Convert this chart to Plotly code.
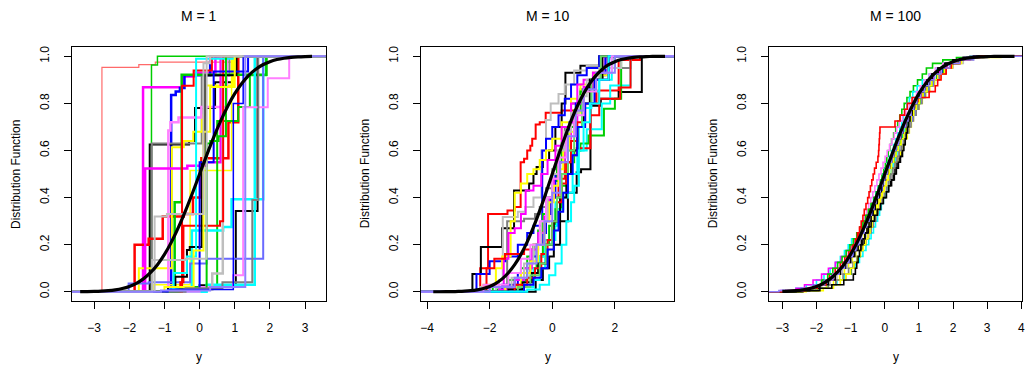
import plotly.graph_objects as go

# R-style palette
BLACK = "#000000"; RED = "#FF0000"; GREEN = "#00CD00"; BLUE = "#0000FF"
CYAN = "#00FFFF"; MAGENTA = "#FF00FF"; YELLOW = "#FFFF00"; GRAY = "#BEBEBE"
DGRAY = "#7F7F7F"; PURPLE = "#8F7FFF"; LRED = "#FF6A6A"; LMAG = "#FF7FFF"
LBLUE = "#6A6AFF"; LGREEN = "#66D966"

TITLES = ["M = 1", "M = 10", "M = 100"]
X_RANGES = [[-3.64, 3.59], [-4.19, 3.89], [-3.39, 4.02]]
X_TICKS = [[-3, -2, -1, 0, 1, 2, 3], [-4, -2, 0, 2], [-3, -2, -1, 0, 1, 2, 3, 4]]
Y_TICKS = [0, 0.2, 0.4, 0.6, 0.8, 1.0]
Y_TICK_TEXT = ["0.0", "0.2", "0.4", "0.6", "0.8", "1.0"]
X_LABEL = "y"
Y_LABEL = "Distribution Function"

# standard normal distribution function (thick reference curve)
NORM_X = [-4.0, -3.8, -3.6, -3.4, -3.2, -3.0, -2.8, -2.6, -2.4, -2.2, -2.0, -1.8, -1.6,
          -1.4, -1.2, -1.0, -0.8, -0.6, -0.4, -0.2, 0.0, 0.2, 0.4, 0.6, 0.8, 1.0, 1.2,
          1.4, 1.6, 1.8, 2.0, 2.2, 2.4, 2.6, 2.8, 3.0, 3.2, 3.4, 3.6, 3.8, 4.0]
NORM_Y = [0.00003, 0.00007, 0.00016, 0.00034, 0.00069, 0.00135, 0.00256, 0.00466,
          0.0082, 0.0139, 0.02275, 0.0359, 0.0548, 0.0808, 0.1151, 0.1587, 0.2119,
          0.2743, 0.3446, 0.4207, 0.5, 0.5793, 0.6554, 0.7257, 0.7881, 0.8413, 0.8849,
          0.9192, 0.9452, 0.9641, 0.97725, 0.9861, 0.9918, 0.99534, 0.99744, 0.99865,
          0.99931, 0.99966, 0.99984, 0.99993, 0.99997]
NORM_SPAN = [(-3.4, 3.3), (-3.9, 3.7), (-3.1, 3.8)]

# ---- M = 1: empirical distribution functions (jump points and levels)
P1_COLORS = [LRED, GREEN, MAGENTA, BLUE, BLACK, DGRAY, RED, YELLOW, YELLOW, LMAG,
             MAGENTA, GREEN, GREEN, BLACK, CYAN, CYAN, LBLUE, GRAY, LMAG, RED,
             RED, BLACK, CYAN, BLUE, GREEN, YELLOW, DGRAY, GRAY, BLUE, GRAY, PURPLE]
P1_WIDTHS = [1.2, 1.5, 2.5, 2.5, 2, 2, 2.5, 2, 1.5, 2.5,
             2.5, 2.5, 2, 2, 2.5, 2.5, 2, 2.5, 2, 2,
             2, 2, 2, 2, 2, 2, 2, 2, 1.5, 2, 2]
P1_JUMPS = [
    [-2.78, -1.73, -1.26, 0.96],
    [-1.37, -1.2],
    [-1.61, -0.47, -0.12, 0.45],
    [-0.81, -0.68, -0.56, -0.43, 0.3],
    [-1.42, -0.3, -0.13, 0.44, 0.96],
    [-1.36, 0.06, 0.85],
    [-1.85, -1.45, -1.05, -0.45, -0.19, 0.05, 0.82, 1.1],
    [-1.73, -0.79, -0.45, -0.18, 0.07, 0.17, 0.95],
    [-1.3, -0.27, 0.91],
    [-0.89, -0.83, -0.6, 0.05, 0.77],
    [-1.55, -0.35, 0.2, 0.6],
    [-0.71, -0.51, 1.9],
    [-0.3, 0.5, 1.1, 1.43, 1.9],
    [0.0, 1.03, 1.65],
    [0.2, 1.57],
    [-0.9, -0.22, 0.67, 0.91, 1.81],
    [-2.02, -1.45, -0.27, 0.2, 1.81],
    [-0.5, 0.36, 0.66],
    [0.0, 0.95, 1.24, 1.94, 2.55],
    [-0.55, -0.46, 0.58, 0.67],
    [-0.5, -0.17, 0.35],
    [-0.9, -0.69, -0.36, -0.28, 0.06, 0.15, 1.05],
    [-0.74, -0.36, -0.1, 0.98],
    [-0.65, 0.0, 0.4, 1.38],
    [-0.6, 0.2, 0.3, 0.54, 0.75],
    [-1.0, -0.17, 0.11, 0.3, 1.0],
    [-0.4, 0.65, 1.5, 1.67],
    [-1.28, -0.93, 0.11, 0.3],
    [-0.9, 0.96, 1.24],
    [-1.35, -0.4, 0.2],
    [-1.1, 0.3, 1.3],
]
P1_LEVELS = [
    [0.953, 0.965, 0.975, 1.0],
    [0.963, 1.0],
    [0.869, 0.914, 0.93, 1.0],
    [0.836, 0.85, 0.865, 0.92, 1.0],
    [0.625, 0.64, 0.78, 0.89, 1.0],
    [0.63, 0.918, 1.0],
    [0.2, 0.225, 0.32, 0.33, 0.4, 0.567, 0.72, 1.0],
    [0.1, 0.614, 0.64, 0.68, 0.75, 0.876, 1.0],
    [0.03, 0.515, 1.0],
    [0.685, 0.72, 0.74, 0.785, 1.0],
    [0.523, 0.535, 0.55, 1.0],
    [0.38, 0.922, 1.0],
    [0.02, 0.725, 0.785, 0.92, 1.0],
    [0.028, 0.343, 1.0],
    [0.03, 1.0],
    [0.01, 0.26, 0.275, 0.393, 1.0],
    [0.035, 0.04, 0.12, 0.14, 1.0],
    [0.01, 0.078, 1.0],
    [0.02, 0.07, 0.784, 0.907, 1.0],
    [0.04, 0.28, 0.3, 1.0],
    [0.875, 0.94, 1.0],
    [0.02, 0.064, 0.177, 0.19, 0.55, 0.92, 1.0],
    [0.08, 0.15, 0.99, 1.0],
    [0.01, 0.55, 0.935, 1.0],
    [0.01, 0.63, 0.64, 0.66, 1.0],
    [0.02, 0.175, 0.68, 0.87, 1.0],
    [0.015, 0.04, 0.39, 1.0],
    [0.32, 0.33, 0.97, 1.0],
    [0.01, 0.8, 1.0],
    [0.135, 0.14, 1.0],
    [0.005, 0.02, 1.0],
]

# ---- M = 10
P2_COLORS = [RED, BLACK, BLACK, GRAY, DGRAY, BLUE, YELLOW, MAGENTA, CYAN, GREEN, RED,
             GREEN, BLUE, CYAN, MAGENTA, YELLOW, GRAY, BLACK, RED, LGREEN, BLUE, CYAN,
             LMAG, PURPLE]
P2_WIDTHS = [2] * 24
P2_JUMPS = [
    [-2.3, -2.05, -1.43, -1.2, -1.01, -0.9, -0.8, -0.7, -0.64, -0.53, -0.4, -0.21, 0.3, 0.8, 1.48, 2.12, 2.8],
    [-2.55, -2.28, -1.6, -1.22, -0.74, -0.6, -0.5, -0.3, -0.1, 0.1, 0.3, 0.42, 0.9, 1.5],
    [-0.53, -0.3, -0.1, 0.05, 0.25, 0.5, 0.78, 0.92, 1.22, 1.55, 2.12, 2.86],
    [-2.3, -1.7, -1.58, -1.1, -0.86, -0.6, -0.35, -0.2, -0.05, 0.2, 0.4, 0.7, 1.1, 1.7, 2.0],
    [-1.44, -0.9, -0.55, -0.4, -0.2, 0.0, 0.2, 0.4, 0.6, 0.9, 1.2, 1.6, 2.5],
    [-2.42, -2.0, -1.5, -1.1, -0.8, -0.6, -0.32, -0.2, 0.0, 0.2, 0.4, 0.6, 0.8, 1.1, 1.5],
    [-2.2, -1.8, -1.6, -1.33, -1.2, -1.0, -0.8, -0.6, -0.4, -0.2, 0.0, 0.3, 0.6, 0.9, 1.3, 1.8],
    [-2.0, -1.55, -1.4, -1.2, -1.0, -0.85, -0.6, -0.35, -0.15, 0.1, 0.3, 0.6, 0.8, 1.0, 1.3, 1.7],
    [-1.5, -1.0, -0.6, -0.4, -0.23, 0.1, 0.3, 0.5, 0.65, 0.8, 1.1, 1.58, 1.85, 2.5],
    [-1.8, -1.2, -0.8, -0.5, -0.3, -0.1, 0.1, 0.3, 0.5, 0.7, 0.9, 1.16, 1.65, 2.0, 2.2],
    [-2.1, -1.85, -1.51, -0.9, -0.6, -0.3, -0.1, 0.2, 0.4, 0.6, 0.78, 1.22, 1.5, 2.17, 2.5],
    [-1.9, -1.4, -1.0, -0.8, -0.6, -0.45, -0.3, -0.15, 0.0, 0.15, 0.3, 0.5, 0.7, 0.9, 1.2, 1.6, 2.0],
    [-1.6, -1.1, -0.7, -0.5, -0.3, -0.2, -0.05, 0.1, 0.25, 0.4, 0.55, 0.75, 1.0, 1.3, 1.7],
    [-1.3, -0.9, -0.6, -0.4, -0.2, 0.0, 0.15, 0.35, 0.5, 0.65, 0.85, 1.0, 1.25, 1.5, 1.9],
    [-1.7, -1.2, -0.9, -0.65, -0.45, -0.25, -0.1, 0.05, 0.2, 0.4, 0.6, 0.8, 1.0, 1.3, 1.6],
    [-1.5, -1.0, -0.7, -0.45, -0.25, -0.1, 0.05, 0.2, 0.35, 0.55, 0.75, 1.0, 1.35, 1.8],
    [-1.8, -1.3, -0.9, -0.6, -0.35, -0.15, 0.0, 0.2, 0.4, 0.6, 0.85, 1.1, 1.5, 2.2],
    [-1.4, -0.95, -0.65, -0.45, -0.2, 0.05, 0.25, 0.45, 0.6, 0.8, 1.0, 1.2, 1.6],
    [-1.2, -0.8, -0.55, -0.35, -0.15, 0.0, 0.15, 0.3, 0.45, 0.6, 0.8, 1.05, 1.4, 1.8],
    [-1.1, -0.7, -0.4, -0.2, 0.0, 0.15, 0.3, 0.5, 0.7, 0.95, 1.25, 1.55],
    [-0.9, -0.6, -0.35, -0.15, 0.05, 0.2, 0.35, 0.5, 0.65, 0.8, 1.05, 1.35, 1.8],
    [-0.8, -0.4, -0.1, 0.1, 0.3, 0.45, 0.6, 0.7, 0.85, 1.0, 1.2, 1.5, 1.8],
    [-2.2, -1.4, -1.0, -0.7, -0.4, -0.2, 0.0, 0.2, 0.45, 0.7, 1.0, 1.4, 1.9],
    [-2.0, -1.2, -0.8, -0.5, -0.25, 0.0, 0.25, 0.5, 0.75, 1.0, 1.4, 2.0],
]
P2_LEVELS = [
    [0.1, 0.33, 0.345, 0.36, 0.55, 0.565, 0.6, 0.62, 0.65, 0.71, 0.72, 0.76, 0.77, 0.8, 0.855, 0.984, 1.0],
    [0.075, 0.19, 0.27, 0.43, 0.46, 0.5, 0.53, 0.56, 0.6, 0.7, 0.8, 0.93, 0.96, 1.0],
    [0.05, 0.1, 0.15, 0.2, 0.3, 0.42, 0.508, 0.52, 0.79, 0.82, 0.848, 1.0],
    [0.02, 0.05, 0.318, 0.34, 0.36, 0.4, 0.6, 0.73, 0.8, 0.84, 0.88, 0.94, 0.96, 0.99, 1.0],
    [0.3, 0.31, 0.33, 0.36, 0.44, 0.52, 0.6, 0.7, 0.8, 0.86, 0.9, 0.95, 1.0],
    [0.075, 0.13, 0.15, 0.2, 0.25, 0.28, 0.6, 0.65, 0.7, 0.75, 0.82, 0.88, 0.92, 0.95, 1.0],
    [0.03, 0.1, 0.15, 0.3, 0.42, 0.46, 0.5, 0.52, 0.56, 0.6, 0.65, 0.72, 0.82, 0.88, 0.93, 1.0],
    [0.02, 0.14, 0.25, 0.27, 0.33, 0.43, 0.45, 0.5, 0.56, 0.62, 0.7, 0.8, 0.88, 0.9, 0.93, 1.0],
    [0.005, 0.02, 0.05, 0.1, 0.22, 0.38, 0.4, 0.42, 0.5, 0.6, 0.69, 0.8, 0.876, 1.0],
    [0.01, 0.05, 0.1, 0.15, 0.2, 0.28, 0.35, 0.45, 0.55, 0.6, 0.63, 0.664, 0.777, 0.82, 1.0],
    [0.1, 0.14, 0.16, 0.18, 0.2, 0.3, 0.4, 0.48, 0.55, 0.58, 0.61, 0.75, 0.82, 0.868, 1.0],
    [0.02, 0.05, 0.1, 0.15, 0.2, 0.26, 0.33, 0.4, 0.47, 0.55, 0.63, 0.7, 0.77, 0.85, 0.9, 0.95, 1.0],
    [0.03, 0.08, 0.15, 0.2, 0.25, 0.33, 0.4, 0.5, 0.55, 0.62, 0.72, 0.8, 0.86, 0.92, 1.0],
    [0.02, 0.06, 0.1, 0.15, 0.2, 0.28, 0.35, 0.42, 0.5, 0.6, 0.7, 0.78, 0.85, 0.9, 1.0],
    [0.01, 0.05, 0.1, 0.18, 0.25, 0.32, 0.4, 0.48, 0.55, 0.65, 0.72, 0.8, 0.87, 0.93, 1.0],
    [0.02, 0.08, 0.13, 0.2, 0.3, 0.38, 0.45, 0.52, 0.6, 0.68, 0.76, 0.85, 0.92, 1.0],
    [0.02, 0.06, 0.12, 0.2, 0.3, 0.4, 0.5, 0.6, 0.68, 0.76, 0.83, 0.9, 0.95, 1.0],
    [0.01, 0.04, 0.08, 0.12, 0.2, 0.3, 0.4, 0.5, 0.6, 0.7, 0.8, 0.9, 1.0],
    [0.03, 0.06, 0.1, 0.16, 0.22, 0.3, 0.38, 0.46, 0.55, 0.64, 0.72, 0.8, 0.9, 1.0],
    [0.02, 0.07, 0.12, 0.2, 0.3, 0.4, 0.5, 0.6, 0.7, 0.8, 0.9, 1.0],
    [0.03, 0.06, 0.1, 0.18, 0.26, 0.34, 0.42, 0.5, 0.58, 0.7, 0.8, 0.9, 1.0],
    [0.01, 0.03, 0.07, 0.12, 0.2, 0.3, 0.38, 0.45, 0.6, 0.72, 0.8, 0.9, 1.0],
    [0.03, 0.08, 0.14, 0.2, 0.3, 0.4, 0.48, 0.57, 0.66, 0.75, 0.85, 0.93, 1.0],
    [0.02, 0.06, 0.12, 0.2, 0.3, 0.42, 0.55, 0.66, 0.77, 0.86, 0.93, 1.0],
]

# ---- M = 100: all curves share the same levels, one jump point per level
P3_LEVELS = [0.005, 0.015, 0.03, 0.05, 0.075, 0.1, 0.125, 0.15, 0.175, 0.2, 0.225,
             0.25, 0.275, 0.3, 0.325, 0.35, 0.375, 0.4, 0.425, 0.45, 0.475, 0.5,
             0.525, 0.55, 0.575, 0.6, 0.625, 0.65, 0.675, 0.7, 0.725, 0.75, 0.775,
             0.8, 0.825, 0.85, 0.875, 0.9, 0.925, 0.95, 0.97, 0.985, 0.995, 1.0]
P3_COLORS = [BLACK, BLUE, GREEN, CYAN, CYAN, MAGENTA, LMAG, YELLOW, GRAY, DGRAY,
             RED, LBLUE, GREEN, YELLOW, BLACK, BLACK, RED, PURPLE]
P3_JUMPS = [
    [-2.45, -2.0, -1.7, -1.42, -1.15, -0.98, -0.88, -0.8, -0.73, -0.66, -0.59,
     -0.5, -0.42, -0.35, -0.28, -0.2, -0.12, -0.05, 0.02, 0.1, 0.17, 0.25,
     0.3, 0.36, 0.42, 0.48, 0.52, 0.58, 0.62, 0.68, 0.72, 0.76, 0.82,
     0.9, 0.98, 1.08, 1.18, 1.3, 1.45, 1.62, 1.82, 2.05, 2.4, 2.75],
    [-2.7, -2.25, -1.95, -1.7, -1.5, -1.3, -1.15, -1.0, -0.9, -0.84, -0.82,
     -0.8, -0.65, -0.55, -0.45, -0.36, -0.28, -0.2, -0.12, -0.05, 0.05, 0.15,
     0.22, 0.3, 0.38, 0.45, 0.52, 0.56, 0.6, 0.64, 0.66, 0.7, 0.76,
     0.86, 0.98, 1.1, 1.22, 1.36, 1.52, 1.7, 1.92, 2.15, 2.45, 2.6],
    [-2.9, -2.3, -1.95, -1.72, -1.52, -1.36, -1.22, -1.1, -1.0, -0.9, -0.81,
     -0.72, -0.64, -0.57, -0.5, -0.43, -0.37, -0.31, -0.25, -0.19, -0.13, -0.08,
     -0.03, 0.02, 0.06, 0.1, 0.15, 0.2, 0.26, 0.32, 0.38, 0.44, 0.5,
     0.57, 0.65, 0.74, 0.84, 0.96, 1.1, 1.22, 1.4, 1.7, 2.1, 2.5],
    [-3.0, -2.6, -2.3, -2.0, -1.78, -1.6, -1.44, -1.3, -1.18, -1.07, -0.97,
     -0.78, -0.7, -0.62, -0.54, -0.47, -0.4, -0.33, -0.26, -0.19, -0.12, -0.05,
     0.02, 0.08, 0.14, 0.2, 0.26, 0.32, 0.38, 0.44, 0.5, 0.55, 0.6,
     0.65, 0.72, 0.82, 0.95, 1.1, 1.3, 1.5, 1.75, 2.0, 2.35, 2.65],
    [-2.5, -2.0, -1.68, -1.4, -1.18, -1.0, -0.86, -0.74, -0.64, -0.55, -0.47,
     -0.4, -0.33, -0.27, -0.21, -0.15, -0.1, -0.04, 0.01, 0.06, 0.11, 0.16,
     0.21, 0.26, 0.31, 0.36, 0.41, 0.46, 0.51, 0.56, 0.62, 0.68, 0.74,
     0.8, 0.88, 0.97, 1.08, 1.2, 1.35, 1.55, 1.8, 2.05, 2.35, 2.7],
    [-3.05, -2.6, -2.35, -2.1, -1.85, -1.65, -1.45, -1.28, -1.12, -1.0, -0.9,
     -0.8, -0.7, -0.6, -0.52, -0.44, -0.37, -0.3, -0.22, -0.15, -0.08, -0.02,
     0.06, 0.12, 0.18, 0.24, 0.31, 0.38, 0.45, 0.52, 0.6, 0.68, 0.76,
     0.85, 0.94, 1.04, 1.15, 1.27, 1.42, 1.6, 1.82, 2.05, 2.35, 2.6],
    [-2.75, -2.4, -2.1, -1.85, -1.62, -1.45, -1.3, -1.17, -1.05, -0.95, -0.86,
     -0.8, -0.73, -0.66, -0.59, -0.53, -0.47, -0.41, -0.35, -0.29, -0.23, -0.17,
     -0.11, -0.05, 0.01, 0.07, 0.14, 0.21, 0.28, 0.35, 0.43, 0.52, 0.62,
     0.72, 0.82, 0.93, 1.04, 1.16, 1.3, 1.48, 1.7, 2.0, 2.3, 2.7],
    [-2.4, -1.95, -1.7, -1.5, -1.32, -1.18, -1.06, -0.95, -0.85, -0.76, -0.68,
     -0.6, -0.52, -0.45, -0.38, -0.31, -0.24, -0.17, -0.1, -0.03, 0.04, 0.1,
     0.22, 0.3, 0.38, 0.46, 0.54, 0.6, 0.66, 0.72, 0.78, 0.84, 0.92,
     1.0, 1.1, 1.2, 1.32, 1.46, 1.62, 1.8, 1.98, 2.2, 2.45, 3.4],
    [-2.6, -2.15, -1.85, -1.6, -1.4, -1.24, -1.1, -0.98, -0.88, -0.78, -0.7,
     -0.52, -0.45, -0.38, -0.31, -0.24, -0.17, -0.1, -0.03, 0.04, 0.1, 0.17,
     0.23, 0.29, 0.35, 0.41, 0.47, 0.53, 0.6, 0.67, 0.74, 0.81, 0.88,
     0.9, 0.99, 1.1, 1.22, 1.36, 1.55, 1.78, 2.0, 2.3, 2.6, 2.9],
    [-2.4, -1.95, -1.65, -1.42, -1.22, -1.06, -0.93, -0.82, -0.72, -0.63, -0.55,
     -0.47, -0.4, -0.33, -0.26, -0.2, -0.13, -0.07, 0.0, 0.06, 0.12, 0.18,
     0.24, 0.3, 0.36, 0.42, 0.49, 0.56, 0.63, 0.7, 0.77, 0.84, 0.92,
     1.0, 1.09, 1.19, 1.3, 1.43, 1.58, 1.76, 1.98, 2.2, 2.5, 2.85],
    [-2.7, -2.3, -2.05, -1.82, -1.62, -1.45, -1.3, -1.17, -1.05, -0.95, -0.86,
     -0.77, -0.68, -0.6, -0.52, -0.45, -0.38, -0.3, -0.23, -0.16, -0.09, -0.02,
     0.05, 0.12, 0.19, 0.26, 0.33, 0.4, 0.47, 0.54, 0.62, 0.7, 0.79,
     0.88, 0.98, 1.1, 1.24, 1.4, 1.58, 1.76, 1.96, 2.2, 2.5, 2.75],
    [-2.9, -2.45, -2.1, -1.8, -1.56, -1.36, -1.2, -1.06, -0.94, -0.85, -0.77,
     -0.69, -0.61, -0.54, -0.47, -0.4, -0.34, -0.27, -0.2, -0.13, -0.06, 0.01,
     0.1, 0.17, 0.25, 0.32, 0.4, 0.48, 0.56, 0.64, 0.72, 0.8, 0.88,
     0.95, 1.05, 1.16, 1.28, 1.42, 1.58, 1.75, 1.95, 2.15, 2.4, 2.5],
    [-2.65, -2.3, -2.05, -1.85, -1.67, -1.52, -1.38, -1.25, -1.13, -1.02, -0.92,
     -0.82, -0.73, -0.64, -0.56, -0.48, -0.4, -0.32, -0.25, -0.18, -0.11, -0.04,
     0.14, 0.2, 0.27, 0.33, 0.4, 0.47, 0.54, 0.61, 0.69, 0.76, 0.84,
     0.93, 1.03, 1.13, 1.25, 1.38, 1.53, 1.72, 1.94, 2.18, 2.45, 2.75],
    [-2.3, -1.8, -1.5, -1.3, -1.14, -1.0, -0.9, -0.8, -0.71, -0.63, -0.56,
     -0.49, -0.43, -0.37, -0.31, -0.25, -0.19, -0.13, -0.07, -0.01, 0.05, 0.11,
     0.13, 0.19, 0.26, 0.33, 0.4, 0.48, 0.56, 0.63, 0.7, 0.77, 0.85,
     0.93, 1.02, 1.12, 1.24, 1.38, 1.55, 1.75, 1.98, 2.25, 2.55, 2.9],
    [-2.6, -2.2, -1.9, -1.65, -1.45, -1.3, -1.15, -1.0, -0.88, -0.78, -0.68,
     -0.58, -0.48, -0.4, -0.3, -0.22, -0.12, -0.04, 0.05, 0.12, 0.2, 0.28,
     0.34, 0.4, 0.46, 0.52, 0.56, 0.6, 0.63, 0.66, 0.7, 0.74, 0.8,
     0.86, 0.94, 1.02, 1.12, 1.24, 1.38, 1.56, 1.78, 2.0, 2.3, 2.7],
    [-2.4, -1.9, -1.55, -1.2, -0.92, -0.86, -0.82, -0.78, -0.74, -0.7, -0.64,
     -0.58, -0.52, -0.46, -0.4, -0.34, -0.28, -0.22, -0.16, -0.1, -0.04, 0.02,
     0.08, 0.14, 0.2, 0.26, 0.33, 0.4, 0.47, 0.54, 0.61, 0.68, 0.76,
     0.84, 0.93, 1.03, 1.14, 1.26, 1.4, 1.56, 1.76, 2.0, 2.3, 2.6],
    [-2.9, -2.35, -1.98, -1.72, -1.52, -1.36, -1.22, -1.1, -1.0, -0.92, -0.85,
     -0.8, -0.74, -0.69, -0.64, -0.6, -0.55, -0.5, -0.46, -0.42, -0.38, -0.34,
     -0.3, -0.25, -0.2, -0.18, -0.17, -0.16, -0.15, -0.14, 0.3, 0.45, 0.58,
     0.66, 0.8, 1.3, 1.48, 1.55, 1.65, 1.8, 1.95, 2.2, 2.5, 2.8],
    [-3.1, -2.4, -2.05, -1.76, -1.52, -1.34, -1.18, -1.05, -0.95, -0.85, -0.76,
     -0.68, -0.6, -0.53, -0.46, -0.39, -0.32, -0.26, -0.19, -0.13, -0.06, 0.0,
     0.07, 0.13, 0.2, 0.26, 0.33, 0.4, 0.46, 0.53, 0.61, 0.68, 0.77,
     0.85, 0.94, 1.05, 1.16, 1.29, 1.45, 1.65, 1.9, 2.2, 2.6, 3.0],
]

FONT = "Liberation Sans, Arial, Helvetica, sans-serif"
FIG_W, FIG_H = 1027, 369
# plot boxes in pixels: (left, right), shared top/bottom
BOX_X = [(71, 326), (421.7, 675.7), (771, 1025)]
BOX_TOP, BOX_BOTTOM = 46, 301


def step_trace(xs, ys, xrange, color, width, axis_id):
    px = [xrange[0]] + list(xs) + [xrange[1]]
    py = [0.0] + list(ys) + [ys[-1]]
    return go.Scatter(x=px, y=py, mode="lines", line=dict(color=color, width=width, shape="hv"),
                      xaxis="x" + axis_id, yaxis="y" + axis_id, hoverinfo="skip", showlegend=False)


fig = go.Figure()
panels = [
    (P1_COLORS, P1_WIDTHS, P1_JUMPS, P1_LEVELS),
    (P2_COLORS, P2_WIDTHS, P2_JUMPS, P2_LEVELS),
    (P3_COLORS, [1.6] * len(P3_COLORS), P3_JUMPS, [P3_LEVELS] * len(P3_JUMPS)),
]
for i, (cols, wids, jumps, levels) in enumerate(panels):
    aid = "" if i == 0 else str(i + 1)
    for c, w, xs, ys in zip(cols, wids, jumps, levels):
        fig.add_trace(step_trace(xs, ys, X_RANGES[i], c, w, aid))
    lo, hi = NORM_SPAN[i]
    nx = [x for x in NORM_X if lo - 1e-9 <= x <= hi + 1e-9]
    ny = [y for x, y in zip(NORM_X, NORM_Y) if lo - 1e-9 <= x <= hi + 1e-9]
    fig.add_trace(go.Scatter(x=nx, y=ny, mode="lines", line=dict(color=BLACK, width=3.2, shape="spline"),
                             xaxis="x" + aid, yaxis="y" + aid, hoverinfo="skip", showlegend=False))

ydom = [1 - BOX_BOTTOM / FIG_H, 1 - BOX_TOP / FIG_H]
axis_common = dict(showline=True, mirror=True, linecolor="black", linewidth=1, showgrid=False,
                   zeroline=False, ticks="outside", ticklen=7, tickwidth=1, tickcolor="black",
                   tickfont=dict(family=FONT, size=12, color="black"))
layout = dict(width=FIG_W, height=FIG_H, margin=dict(l=0, r=0, t=0, b=0),
              paper_bgcolor="white", plot_bgcolor="white", showlegend=False)
annotations = []
for i in range(3):
    aid = "" if i == 0 else str(i + 1)
    x0, x1 = BOX_X[i]
    layout["xaxis" + aid] = dict(axis_common, domain=[x0 / FIG_W, x1 / FIG_W], range=X_RANGES[i],
                                 tickvals=X_TICKS[i], anchor="y" + aid, ticklabelstandoff=8,
                                 ticklabeloverflow="allow")
    layout["yaxis" + aid] = dict(axis_common, domain=ydom, range=[-0.04, 1.04], tickvals=Y_TICKS,
                                 ticktext=Y_TICK_TEXT, tickangle=-90, anchor="x" + aid,
                                 ticklabelstandoff=10)
    cx = (x0 + x1) / 2 / FIG_W
    annotations.append(dict(text=TITLES[i], x=cx, y=1 - 15 / FIG_H, xref="paper", yref="paper",
                            showarrow=False, font=dict(family=FONT, size=14, color="black"),
                            xanchor="center", yanchor="middle"))
    annotations.append(dict(text=X_LABEL, x=cx, y=1 - 357 / FIG_H, xref="paper", yref="paper",
                            showarrow=False, font=dict(family=FONT, size=12, color="black"),
                            xanchor="center", yanchor="middle"))
    annotations.append(dict(text=Y_LABEL, x=(x0 - 56) / FIG_W, y=(ydom[0] + ydom[1]) / 2,
                            xref="paper", yref="paper", showarrow=False, textangle=-90,
                            font=dict(family=FONT, size=12, color="black"),
                            xanchor="center", yanchor="middle"))
layout["annotations"] = annotations
fig.update_layout(**layout)
fig.write_html("out.html")
